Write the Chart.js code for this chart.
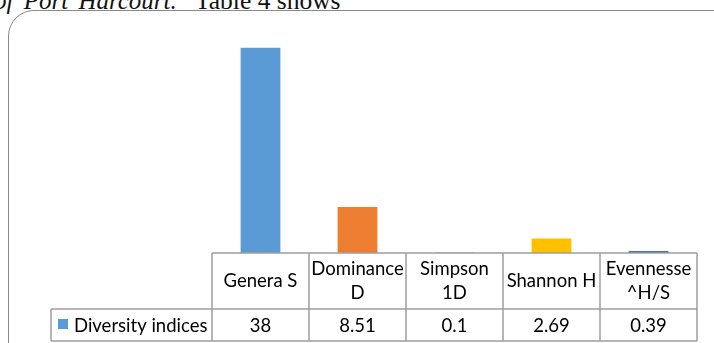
<!DOCTYPE html>
<html>
<head>
<meta charset="utf-8">
<script src="https://cdn.jsdelivr.net/npm/chart.js@4/dist/chart.umd.min.js"></script>
<style>
  html, body { margin: 0; padding: 0; background: #fff; }
  body { width: 714px; height: 343px; overflow: hidden; position: relative; }
  .cap {
    position: absolute; top: -12px; white-space: nowrap; line-height: 26px;
    font-family: "Liberation Serif", "Times New Roman", serif; color: #111;
  }
  #capA { left: -6px; font-size: 25px; font-style: italic; word-spacing: 4px; }
  #capB { left: 195px; font-size: 25.5px; }
  #frame {
    position: absolute; left: 8px; top: 10px; width: 740px; height: 360px;
    border: 1.5px solid #8a8a8a; border-radius: 26px; box-sizing: border-box;
  }
  #wrap { position: absolute; left: 0; top: 0; width: 714px; height: 343px; }
</style>
</head>
<body>
<div class="cap" id="capA">of Port Harcourt.</div>
<div class="cap" id="capB">Table 4 shows</div>
<div id="frame"></div>
<div id="wrap"><canvas id="c" width="714" height="343"></canvas></div>
<script>
// Diversity indices per category
const categories = [["Genera S"], ["Dominance", "D"], ["Simpson", "1D"], ["Shannon H"], ["Evennesse", "^H/S"]];
const seriesName = "Diversity indices";
const values = [38, 8.51, 0.1, 2.69, 0.39];
const valueLabels = ["38", "8.51", "0.1", "2.69", "0.39"];
const barColors = ["#5B9BD5", "#ED7D31", "#A5A5A5", "#FFC000", "#4472C4"];

const FONT = '18.5px "Lato", "Open Sans", sans-serif';
const GRID = "#9e9e9e";

// Data table drawn beneath the plot, aligned with the category scale
const dataTable = {
  id: "dataTable",
  afterDraw(chart) {
    const ctx = chart.ctx;
    const xs = chart.scales.x;
    const area = chart.chartArea;
    const n = categories.length;
    const half = (xs.getPixelForTick(1) - xs.getPixelForTick(0)) / 2;
    const left = xs.getPixelForTick(0) - half;
    const right = xs.getPixelForTick(n - 1) + half;
    const top = area.bottom;
    const mid = top + 56;
    const bottom = mid + 32;
    const headLeft = 51;

    ctx.save();
    ctx.strokeStyle = GRID;
    ctx.lineWidth = 1.5;
    ctx.beginPath();
    ctx.moveTo(left, top); ctx.lineTo(right, top);
    ctx.moveTo(headLeft, mid); ctx.lineTo(right, mid);
    ctx.moveTo(headLeft, bottom); ctx.lineTo(right, bottom);
    ctx.moveTo(headLeft, mid); ctx.lineTo(headLeft, bottom);
    for (let i = 0; i <= n; i++) {
      const x = xs.getPixelForTick(Math.min(i, n - 1)) + (i === n ? half : -half);
      ctx.moveTo(x, top); ctx.lineTo(x, bottom);
    }
    ctx.stroke();

    ctx.fillStyle = "#000";
    ctx.font = FONT;
    ctx.textAlign = "center";
    ctx.textBaseline = "middle";
    const lh = 24;
    categories.forEach((lines, i) => {
      const cx = xs.getPixelForTick(i);
      const cy = (top + mid) / 2;
      lines.forEach((t, k) => {
        ctx.fillText(t, cx, cy + (k - (lines.length - 1) / 2) * lh);
      });
      ctx.fillText(valueLabels[i], cx, (mid + bottom) / 2 + 1);
    });

    // series key and name
    ctx.fillStyle = barColors[0];
    ctx.fillRect(58, 319, 10, 10);
    ctx.fillStyle = "#000";
    ctx.textAlign = "left";
    ctx.fillText(seriesName, 74, (mid + bottom) / 2 + 1);
    ctx.restore();
  }
};

new Chart(document.getElementById("c"), {
  type: "bar",
  data: {
    labels: categories,
    datasets: [{
      label: seriesName,
      data: values,
      backgroundColor: barColors,
      borderWidth: 0,
      categoryPercentage: 1,
      barPercentage: 0.41
    }]
  },
  options: {
    responsive: false,
    animation: false,
    devicePixelRatio: 1,
    layout: { padding: { left: 212, right: 17, top: 37, bottom: 90 } },
    plugins: { legend: { display: false }, tooltip: { enabled: false } },
    scales: {
      x: { display: false },
      y: { display: false, min: 0, max: 40 }
    }
  },
  plugins: [dataTable]
});
</script>
</body>
</html>
